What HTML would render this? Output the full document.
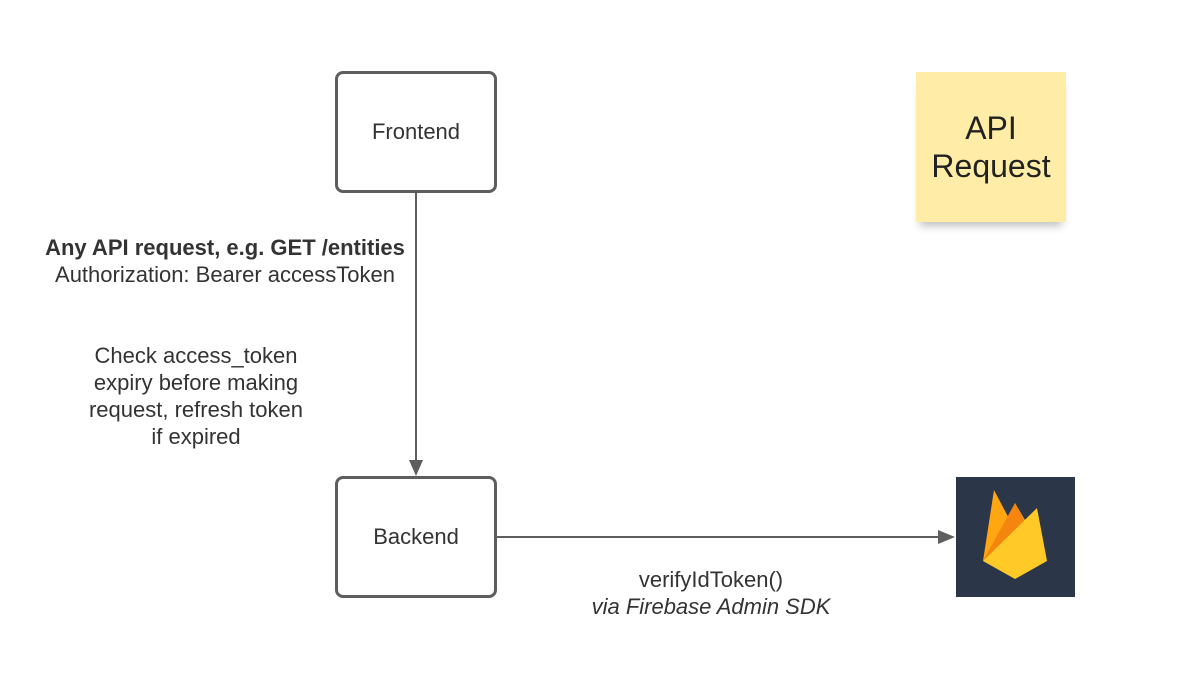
<!DOCTYPE html>
<html><head><style>
body{margin:0;width:1177px;height:680px;background:#fff;position:relative;font-family:"Liberation Sans",sans-serif;color:#333;overflow:hidden}
.box{position:absolute;border:3px solid #5e5e5e;border-radius:8px;box-sizing:border-box;display:flex;align-items:center;justify-content:center;font-size:22px}
.t{position:absolute;text-align:center;font-size:22px;line-height:27px}
</style></head><body>
<div class="box" style="left:335px;top:71px;width:162px;height:122px">Frontend</div>
<div class="box" style="left:335px;top:476px;width:162px;height:122px">Backend</div>
<div style="position:absolute;left:916px;top:72px;width:150px;height:150px;background:#ffeca6;box-shadow:0 8px 8px -4px rgba(0,0,0,0.25);display:flex;align-items:center;justify-content:center;text-align:center;font-size:32px;line-height:38px;color:#222">API<br>Request</div>
<svg style="position:absolute;left:0;top:0" width="1177" height="680">
<line x1="416" y1="193" x2="416" y2="462" stroke="#5e5e5e" stroke-width="2"/>
<polygon points="409,460 423,460 416,476" fill="#5e5e5e"/>
<line x1="497" y1="537" x2="942" y2="537" stroke="#5e5e5e" stroke-width="2"/>
<polygon points="938,530 938,544 955,537" fill="#5e5e5e"/>
<rect x="956" y="477" width="119" height="120" fill="#2b3649"/>
<polygon points="983,561 994,490 1015,530" fill="#ffa611"/>
<polygon points="1015,503 1025,520 1010,545" fill="#f6a01a"/>
<polygon points="983,561 1015,503 1028,528" fill="#f4850f"/>
<polygon points="983,561 1037,508 1047,561 1015,579" fill="#ffca28"/>
</svg>
<div class="t" style="left:10px;top:234px;width:430px"><b>Any API request, e.g. GET /entities</b><br>Authorization: Bearer accessToken</div>
<div class="t" style="left:46px;top:342px;width:300px">Check access_token<br>expiry before making<br>request, refresh token<br>if expired</div>
<div class="t" style="left:541px;top:566px;width:340px">verifyIdToken()<br><i>via Firebase Admin SDK</i></div>
</body></html>
